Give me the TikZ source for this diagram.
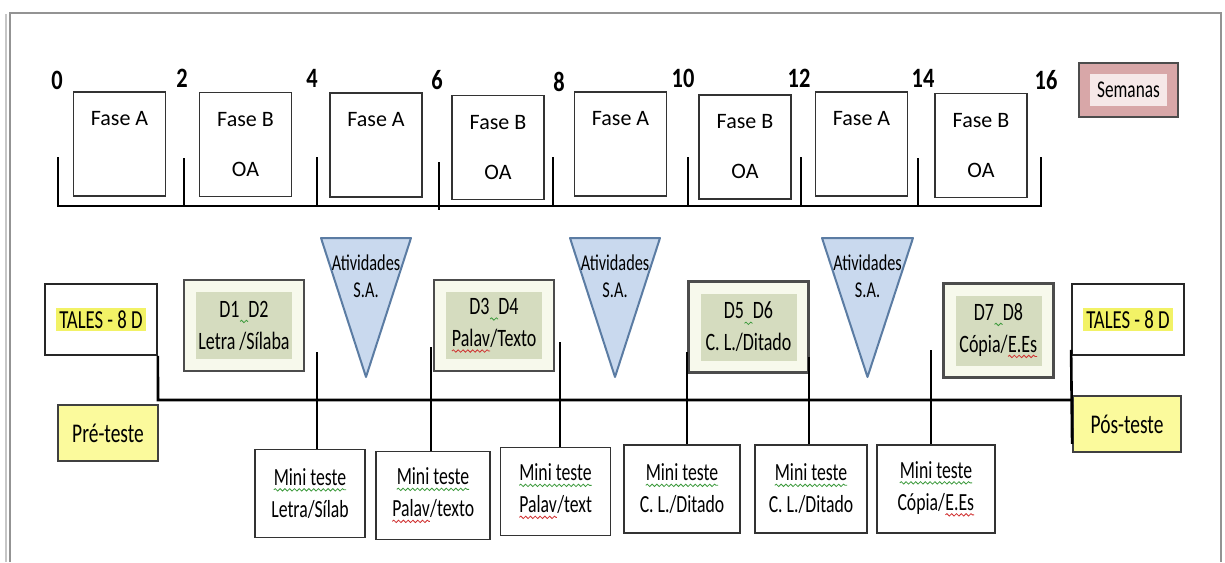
\documentclass[tikz,border=0pt]{standalone}
\usepackage{fontspec}
\setmainfont{Carlito}
\newfontfamily\smalcond[FakeStretch=0.72]{Carlito}
\newfontfamily\tallnum[FakeStretch=0.8]{Carlito}
\usetikzlibrary{calc,decorations.pathmorphing}

\definecolor{hlyellow}{HTML}{F2F266}
\definecolor{preyellow}{HTML}{FBFA9C}
\definecolor{dgreen}{HTML}{D5DCBF}
\definecolor{dpale}{HTML}{F7F9EC}
\definecolor{triblue}{HTML}{C9D9EE}
\definecolor{triedge}{HTML}{5B7CA3}
\definecolor{rose}{HTML}{D8A7A8}
\definecolor{rosepale}{HTML}{F6E8E8}
\definecolor{wavegreen}{HTML}{3C9A3C}
\definecolor{wavered}{HTML}{D03030}

% sublinhado ondulado (corretor)
\newcommand\wavy[2]{\tikz[baseline=(wv.base)]{\node[inner sep=0pt, outer sep=0pt, draw=none, fill=none, minimum size=0pt] (wv) {#2};
    \draw[draw=#1, fill=none, line width=0.4pt, decorate, decoration={snake, amplitude=0.6pt, segment length=2.4pt}]
    ([yshift=-2.2pt]wv.base west) -- ([yshift=-2.2pt]wv.base east);}}
\newcommand\gsq[1]{\wavy{wavegreen}{#1}}
\newcommand\rsq[1]{\wavy{wavered}{#1}}
\newcommand\hltext[1]{{\setlength\fboxsep{1.5pt}\colorbox{hlyellow}{#1}}}
\newcommand\inbox[4]{{\setlength\fboxsep{0pt}\colorbox{#1}{\parbox[c][#3][c]{#2}{\centering #4}}}}

\tikzset{
  week/.style={font=\tallnum\bfseries\fontsize{14}{14}\selectfont, inner sep=0pt},
  weektick/.style={line width=1pt},
  fase/.style={draw=black!80, line width=0.7pt, fill=white, minimum width=46pt, minimum height=52pt, align=center, font=\fontsize{11}{13}\selectfont},
  tales/.style={draw=black!85, line width=0.9pt, fill=white, minimum width=56pt, minimum height=35.5pt, font=\smalcond\fontsize{13}{15}\selectfont},
  teste/.style={draw=black!75, line width=0.9pt, fill=preyellow, minimum width=50pt, minimum height=28pt, font=\smalcond\fontsize{13.5}{15}\selectfont},
  dbox/.style={draw=black!70, line width=1.3pt, fill=dpale, inner sep=6pt, font=\smalcond\fontsize{12.5}{15}\selectfont},
  tri/.style={draw=triedge, line width=1pt, fill=triblue, line join=round},
  trilabel/.style={font=\smalcond\fontsize{11.3}{13.5}\selectfont, align=center},
  mini/.style={draw=black!80, line width=0.9pt, fill=white, minimum width=55pt, minimum height=44pt, align=center, font=\smalcond\fontsize{12.3}{16}\selectfont},
  mainline/.style={line width=1.3pt},
  conn/.style={line width=1pt}
}

\begin{document}
\begin{tikzpicture}[x=0.5pt, y=-0.5pt]
    \useasboundingbox (0,0) rectangle (1225,562);
    \draw[gray!45, line width=0.6pt] (6,562) -- (6,14); % moldura
    \draw[gray!85, line width=1.2pt] (10,562) -- (10,13) -- (1221,13) -- (1221,562);

    % semanas
    \node[week] (w0) at (57,80) {0};
    \node[week] (w2) at (182,78) {2};
    \node[week] (w4) at (312,78) {4};
    \node[week] (w6) at (437,80) {6};
    \node[week] (w8) at (559,82) {8};
    \node[week] (w10) at (683,78) {10};
    \node[week] (w12) at (799,78) {12};
    \node[week] (w14) at (923,78) {14};
    \node[week] (w16) at (1046,80) {16};
    \node[draw=black!70, line width=1pt, fill=rose, inner sep=5.5pt] (sem) at (1128.5,90)
        {\inbox{rosepale}{38.5pt}{16pt}{\smalcond\fontsize{12}{14}\selectfont Semanas}};

    \draw[mainline] (58,157) -- (58,206) -- (1041,206) -- (1041,157); % escala
    \draw[weektick] (184,158) -- (184,206) (317,157) -- (317,206) (439,162) -- (439,210)
        (553,157) -- (553,206) (688,157) -- (688,206) (801,157) -- (801,206) (918,158) -- (918,206);

    % fases
    \node[fase] (f1) at (119.5,144) {Fase A\\[12pt]\phantom{OA}};
    \node[fase] (f2) at (245.5,144.5) {Fase B\\[12pt]OA};
    \node[fase] (f3) at (376,145) {Fase A\\[12pt]\phantom{OA}};
    \node[fase] (f4) at (498,147.5) {Fase B\\[12pt]OA};
    \node[fase] (f5) at (620.5,144) {Fase A\\[12pt]\phantom{OA}};
    \node[fase] (f6) at (745,147) {Fase B\\[12pt]OA};
    \node[fase] (f7) at (861.5,144) {Fase A\\[12pt]\phantom{OA}};
    \node[fase] (f8) at (981,145.5) {Fase B\\[12pt]OA};

    % pre e pos
    \node[tales] (tales1) at (101,319.5) {\hltext{TALES - 8 D}};
    \node[teste] (pre) at (108,433) {Pré-teste};
    \node[tales] (tales2) at (1128,319.5) {\hltext{TALES - 8 D}};
    \node[teste, minimum width=54pt] (pos) at (1127,424) {Pós-teste};

    % linha do tempo
    \coordinate (lstart) at (158,400);
    \coordinate (lend) at (1073,400);
    \draw[mainline] (tales1.south east) -- (lstart) -- (lend);
    \draw[mainline] ([yshift=3pt]tales2.south west) -- ([yshift=4.5pt]pos.south west);

    % atividades
    \draw[tri] (321,238) -- (411,238) -- (366,377) -- cycle;
    \draw[tri] (570,238) -- (660,238) -- (615,377) -- cycle;
    \draw[tri] (822,238) -- (913,238) -- (867.5,377) -- cycle;
    \node[trilabel] (a1) at (366,276) {Atividades\\S.A.};
    \node[trilabel] (a2) at (615,276) {Atividades\\S.A.};
    \node[trilabel] (a3) at (867.5,276) {Atividades\\S.A.};

    % descritores
    \node[dbox] (d1) at (244,325.5) {\inbox{dgreen}{48pt}{33.5pt}{D1\gsq{\hspace*{4pt}}D2\\[1pt]Letra /Sílaba}};
    \node[dbox] (d3) at (494,325.5) {\inbox{dgreen}{48pt}{33.5pt}{D3\gsq{\hspace*{4pt}}D4\\[1pt]\rsq{Palav}/Texto}};
    \node[dbox] (d5) at (748.5,327) {\inbox{dgreen}{48pt}{33.5pt}{D5\gsq{\hspace*{4pt}}D6\\[1pt]C. L./Ditado}};
    \node[dbox] (d7) at (998.5,330.5) {\inbox{dgreen}{43pt}{35pt}{D7\gsq{\hspace*{4pt}}D8\\[1pt]Cópia/\rsq{E.Es}}};

    % mini testes
    \node[mini] (m1) at (310,493.5) {\gsq{Mini teste}\\Letra/Sílab};
    \node[mini, minimum width=57pt] (m2) at (433,495.5) {\gsq{Mini teste}\\\rsq{Palav}/texto};
    \node[mini] (m3) at (555.5,491.5) {\gsq{Mini teste}\\\rsq{Palav}/text};
    \node[mini, minimum width=58pt] (m4) at (682,489) {\gsq{Mini teste}\\C. L./Ditado};
    \node[mini, minimum width=56pt] (m5) at (811,489) {\gsq{Mini teste}\\C. L./Ditado};
    \node[mini, minimum width=59pt] (m6) at (936,489) {\gsq{Mini teste}\\Cópia/\rsq{E.Es}};

    \coordinate (v1) at (317,352);
    \coordinate (v2) at (431,347);
    \coordinate (v3) at (560,342);
    \coordinate (v4) at (687,352);
    \coordinate (v5) at (809,357);
    \coordinate (v6) at (931,350);
    \draw[conn] (v1) -- (v1 |- m1.north);
    \draw[conn] (v2) -- (v2 |- m2.north);
    \draw[conn] (v3) -- (v3 |- m3.north);
    \draw[conn] (v4) -- (v4 |- m4.north);
    \draw[conn] (v5) -- (v5 |- m5.north);
    \draw[conn] (v6) -- (v6 |- m6.north);
\end{tikzpicture}
\end{document}
